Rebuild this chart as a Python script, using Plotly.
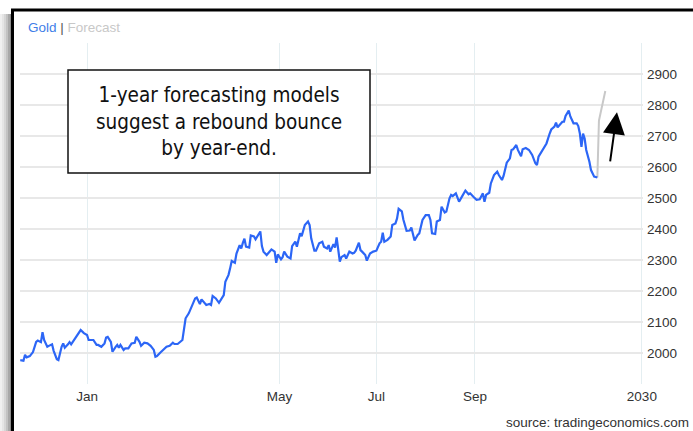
import plotly.graph_objects as go

# Gold spot price, daily closes (USD / troy ounce)
gold_dates = [
    "2023-11-20", "2023-11-22", "2023-11-23", "2023-11-24", "2023-11-26", "2023-11-28", "2023-11-30",
    "2023-12-01", "2023-12-03", "2023-12-04", "2023-12-05", "2023-12-07", "2023-12-08", "2023-12-10",
    "2023-12-11", "2023-12-13", "2023-12-14", "2023-12-16", "2023-12-17", "2023-12-18", "2023-12-20",
    "2023-12-21", "2023-12-22", "2023-12-24", "2023-12-26", "2023-12-28", "2023-12-30",
    "2024-01-01", "2024-01-02", "2024-01-05", "2024-01-07", "2024-01-08", "2024-01-10", "2024-01-12",
    "2024-01-13", "2024-01-14", "2024-01-16", "2024-01-17", "2024-01-19", "2024-01-20", "2024-01-21",
    "2024-01-22", "2024-01-24", "2024-01-25", "2024-01-27", "2024-01-29", "2024-01-31",
    "2024-02-01", "2024-02-03", "2024-02-04", "2024-02-06", "2024-02-08", "2024-02-10", "2024-02-12",
    "2024-02-13", "2024-02-14", "2024-02-16", "2024-02-18", "2024-02-20", "2024-02-22", "2024-02-24",
    "2024-02-25", "2024-02-27",
    "2024-03-01", "2024-03-02", "2024-03-03", "2024-03-05", "2024-03-07", "2024-03-09", "2024-03-10",
    "2024-03-12", "2024-03-13", "2024-03-15", "2024-03-16", "2024-03-18", "2024-03-19", "2024-03-20",
    "2024-03-22", "2024-03-24", "2024-03-25", "2024-03-27", "2024-03-28", "2024-03-30", "2024-03-31",
    "2024-04-01", "2024-04-03", "2024-04-04", "2024-04-06", "2024-04-07", "2024-04-08", "2024-04-09",
    "2024-04-10", "2024-04-12", "2024-04-13", "2024-04-15", "2024-04-16", "2024-04-18", "2024-04-19",
    "2024-04-20", "2024-04-21", "2024-04-23", "2024-04-24", "2024-04-26", "2024-04-28", "2024-04-29",
    "2024-04-30",
    "2024-05-02", "2024-05-03", "2024-05-04", "2024-05-06", "2024-05-08", "2024-05-09", "2024-05-11",
    "2024-05-12", "2024-05-14", "2024-05-15", "2024-05-17", "2024-05-19", "2024-05-20", "2024-05-21",
    "2024-05-23", "2024-05-24", "2024-05-26", "2024-05-28", "2024-05-29", "2024-05-31",
    "2024-06-01", "2024-06-02", "2024-06-04", "2024-06-05", "2024-06-06", "2024-06-08", "2024-06-09",
    "2024-06-11", "2024-06-12", "2024-06-14", "2024-06-16", "2024-06-17", "2024-06-18", "2024-06-20",
    "2024-06-21", "2024-06-22", "2024-06-24", "2024-06-25", "2024-06-27", "2024-06-29",
    "2024-07-01", "2024-07-03", "2024-07-04", "2024-07-05", "2024-07-06", "2024-07-08", "2024-07-10",
    "2024-07-11", "2024-07-13", "2024-07-14", "2024-07-15", "2024-07-17", "2024-07-18", "2024-07-20",
    "2024-07-22", "2024-07-23", "2024-07-25", "2024-07-27", "2024-07-28", "2024-07-30",
    "2024-08-01", "2024-08-03", "2024-08-04", "2024-08-05", "2024-08-07", "2024-08-08", "2024-08-10",
    "2024-08-11", "2024-08-13", "2024-08-14", "2024-08-16", "2024-08-17", "2024-08-18", "2024-08-20",
    "2024-08-22", "2024-08-24", "2024-08-26", "2024-08-28", "2024-08-29", "2024-08-31",
    "2024-09-02", "2024-09-04", "2024-09-06", "2024-09-07", "2024-09-08", "2024-09-10", "2024-09-11",
    "2024-09-13", "2024-09-15", "2024-09-16", "2024-09-18", "2024-09-19", "2024-09-21", "2024-09-23",
    "2024-09-24", "2024-09-25", "2024-09-27", "2024-09-28", "2024-09-30",
    "2024-10-01", "2024-10-03", "2024-10-05", "2024-10-07", "2024-10-09", "2024-10-10", "2024-10-11",
    "2024-10-13", "2024-10-14", "2024-10-16", "2024-10-18", "2024-10-19", "2024-10-21", "2024-10-22",
    "2024-10-23", "2024-10-24", "2024-10-26", "2024-10-27", "2024-10-28", "2024-10-30", "2024-10-31",
    "2024-11-02", "2024-11-04", "2024-11-05", "2024-11-06", "2024-11-07", "2024-11-08", "2024-11-09",
    "2024-11-10", "2024-11-12", "2024-11-13", "2024-11-15", "2024-11-17",
]
gold_values = [
    1977, 1975, 1994, 1986, 1990, 2003, 2036,
    2040, 2035, 2067, 2042, 2020, 2023, 2028,
    2007, 1980, 1977, 2020, 2031, 2017, 2028,
    2035, 2028, 2044, 2058, 2074, 2064,
    2058, 2042, 2042, 2026, 2026, 2020, 2031,
    2050, 2052, 2036, 2004, 2020, 2026, 2017,
    2026, 2010, 2015, 2015, 2031, 2033,
    2052, 2036, 2023, 2033, 2031, 2023, 2010,
    1988, 1990, 2001, 2012, 2020, 2023, 2033,
    2029, 2029,
    2042, 2074, 2112, 2128, 2155, 2176, 2179,
    2158, 2173, 2162, 2155, 2158, 2155, 2184,
    2176, 2162, 2171, 2187, 2230, 2252, 2273,
    2297, 2291, 2321, 2348, 2337, 2355, 2369,
    2343, 2340, 2379, 2376, 2367, 2385, 2392,
    2345, 2327, 2316, 2322, 2334, 2327, 2291,
    2318,
    2302, 2309, 2327, 2311, 2305, 2345, 2359,
    2343, 2386, 2377, 2413, 2424, 2413, 2370,
    2330, 2330, 2354, 2359, 2343, 2337,
    2348, 2327, 2351, 2340, 2373, 2295, 2309,
    2316, 2305, 2327, 2321, 2323, 2330, 2356,
    2332, 2327, 2316, 2298, 2321, 2327,
    2330, 2354, 2359, 2388, 2359, 2365, 2376,
    2413, 2418, 2434, 2465, 2457, 2430, 2394,
    2395, 2405, 2363, 2381, 2386, 2429,
    2445, 2445, 2429, 2386, 2384, 2424, 2429,
    2472, 2453, 2456, 2499, 2510, 2506, 2515,
    2488, 2506, 2524, 2512, 2515, 2504,
    2494, 2496, 2515, 2488, 2510, 2517, 2547,
    2574, 2585, 2574, 2558, 2571, 2614, 2628,
    2655, 2657, 2671, 2655, 2635,
    2657, 2661, 2655, 2639, 2612, 2606, 2633,
    2649, 2657, 2676, 2708, 2721, 2730, 2743,
    2728, 2735, 2746, 2746, 2765, 2782, 2763,
    2741, 2741, 2732, 2708, 2665, 2708, 2692,
    2655, 2617, 2590, 2569, 2566,
]

# Forecast path continuing from the last close
forecast_dates = ["2024-11-17", "2024-11-18", "2024-11-22"]
forecast_values = [2566, 2750, 2845]

# Axis ticks
x_tick_dates = ["2024-01-01", "2024-05-01", "2024-07-01", "2024-09-01", "2024-12-15"]
x_tick_labels = ["Jan", "May", "Jul", "Sep", "2030"]
y_tick_values = list(range(1900, 3001, 100))
y_tick_labels = ["" if v in (1900, 3000) else str(v) for v in y_tick_values]

W, H = 693, 431
ML, MR, MT, MB = 20, 50, 43, 47
PW, PH = W - ML - MR, H - MT - MB


def px_x(px):
    return (px - ML) / PW


def px_y(py):
    return (H - MB - py) / PH


BLUE = "#2c66f6"
GREY = "#c8c8c8"
TEXT = "#333333"
AXIS_FONT = dict(family="Liberation Sans, Arial, sans-serif", size=13.5, color=TEXT)

fig = go.Figure()
fig.add_trace(go.Scatter(
    x=forecast_dates, y=forecast_values, mode="lines",
    line=dict(color=GREY, width=2), hoverinfo="skip", showlegend=False,
))
fig.add_trace(go.Scatter(
    x=gold_dates, y=gold_values, mode="lines",
    line=dict(color=BLUE, width=2.2), showlegend=False, name="Gold",
))

shapes = []
# soft drop shadow along the left edge of the frame
shadow_steps = [(0, 2, 0.06), (2, 4, 0.10), (4, 6, 0.16), (6, 8, 0.24), (8, 10, 0.34), (10, 11.5, 0.45)]
for x0, x1, op in shadow_steps:
    shapes.append(dict(type="rect", xref="paper", yref="paper",
                       x0=px_x(x0), x1=px_x(x1), y0=px_y(H), y1=px_y(14),
                       fillcolor="black", opacity=op, line=dict(width=0), layer="above"))
# black frame: top and left edges
shapes.append(dict(type="line", xref="paper", yref="paper",
                   x0=px_x(11), x1=px_x(W + 2), y0=px_y(10), y1=px_y(10),
                   line=dict(color="black", width=3), layer="above"))
shapes.append(dict(type="line", xref="paper", yref="paper",
                   x0=px_x(12.5), x1=px_x(12.5), y0=px_y(9), y1=px_y(H + 2),
                   line=dict(color="black", width=3), layer="above"))
# callout box
shapes.append(dict(type="rect", xref="paper", yref="paper",
                   x0=px_x(68), x1=px_x(370), y0=px_y(173), y1=px_y(70),
                   fillcolor="white", line=dict(color="#111111", width=1.5), layer="above"))

annotations = [
    dict(xref="paper", yref="paper", x=px_x(26), y=px_y(27), xanchor="left", yanchor="middle",
         showarrow=False,
         text="<span style='color:#3f7ee8'>Gold</span> <span style='color:#555555'>|</span> "
              "<span style='color:#c8c8c8'>Forecast</span>",
         font=dict(family="Liberation Sans, Arial, sans-serif", size=13.5)),
    dict(xref="paper", yref="paper", x=px_x(219), y=px_y(121), xanchor="center", yanchor="middle",
         showarrow=False, align="center",
         text="1-year forecasting models<br>suggest a rebound bounce<br>by year-end.",
         font=dict(family="DejaVu Sans Condensed, DejaVu Sans, sans-serif", size=20.5, color="#111111")),
    dict(xref="paper", yref="paper", x=px_x(691), y=px_y(423), xanchor="right", yanchor="middle",
         showarrow=False, text="source: tradingeconomics.com", font=AXIS_FONT),
    dict(x="2024-11-29 08:00", y=2777, ax="2024-11-24 22:00", ay=2613, xref="x", yref="y",
         axref="x", ayref="y", text="", showarrow=True, arrowhead=2, arrowsize=2.2,
         arrowwidth=2, arrowcolor="black", standoff=0),
]

fig.update_layout(
    width=W, height=H,
    margin=dict(l=ML, r=MR, t=MT, b=MB, pad=0),
    paper_bgcolor="white", plot_bgcolor="white",
    shapes=shapes, annotations=annotations,
    xaxis=dict(
        type="date", range=["2023-11-19 20:00", "2024-12-15 17:00"],
        tickvals=x_tick_dates, ticktext=x_tick_labels,
        showgrid=True, gridcolor="#e4eef1", gridwidth=1,
        zeroline=False, showline=False, ticks="", tickfont=AXIS_FONT,
        ticklabelstandoff=2,
    ),
    yaxis=dict(
        side="right", range=[1900, 3000],
        tickvals=y_tick_values, ticktext=y_tick_labels,
        showgrid=True, gridcolor="#e8e8e8", gridwidth=1.5,
        zeroline=False, showline=False, ticks="", tickfont=AXIS_FONT,
        ticklabelstandoff=3,
    ),
)

fig.write_html("out.html")
